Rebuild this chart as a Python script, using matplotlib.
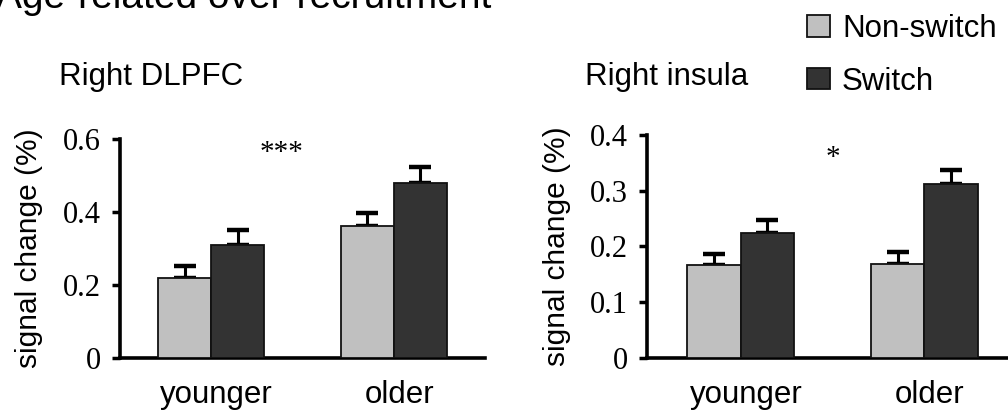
import matplotlib
matplotlib.use("Agg")
import matplotlib.pyplot as plt
import numpy as np

groups = ["younger", "older"]
series = ["Non-switch", "Switch"]
colors = ["#c0c0c0", "#333333"]

dlpfc_nonswitch = [0.219, 0.362]
dlpfc_switch = [0.310, 0.480]
dlpfc_nonswitch_err = [0.033, 0.035]
dlpfc_switch_err = [0.041, 0.043]
dlpfc_ticks = [0, 0.2, 0.4, 0.6]
dlpfc_tick_labels = ["0", "0.2", "0.4", "0.6"]

insula_nonswitch = [0.166, 0.169]
insula_switch = [0.225, 0.3125]
insula_nonswitch_err = [0.021, 0.021]
insula_switch_err = [0.023, 0.024]
insula_ticks = [0, 0.1, 0.2, 0.3, 0.4]
insula_tick_labels = ["0", "0.1", "0.2", "0.3", "0.4"]

SANS = "Liberation Sans"
SERIF = "Liberation Serif"

fig = plt.figure(figsize=(10.08, 4.12), dpi=100)
fig.patch.set_facecolor("white")

ax1 = fig.add_axes([0.119, 0.1311, 0.3621, 0.5316])
ax2 = fig.add_axes([0.6419, 0.1311, 0.368, 0.5412])

w = 0.29
x = np.arange(len(groups))


def panel(ax, ns, sw, ns_err, sw_err, ticks, tlabels, ylim, xlim):
    b1 = ax.bar(x - w / 2, ns, w, color=colors[0], edgecolor="#111111", linewidth=1.3, zorder=3, label=series[0])
    b2 = ax.bar(x + w / 2, sw, w, color=colors[1], edgecolor="#111111", linewidth=1.3, zorder=3, label=series[1])
    ax.errorbar(x - w / 2, ns, yerr=[np.zeros(len(ns)), ns_err], fmt="none", ecolor="black",
                elinewidth=2.2, capsize=8, capthick=3.2, zorder=2)
    ax.errorbar(x + w / 2, sw, yerr=[np.zeros(len(sw)), sw_err], fmt="none", ecolor="black",
                elinewidth=2.2, capsize=8, capthick=3.2, zorder=2)
    ax.set_xlim(*xlim)
    ax.set_ylim(*ylim)
    ax.set_yticks(ticks)
    ax.set_yticklabels(tlabels, fontfamily=SERIF, fontsize=22)
    ax.set_xticks(x + 0.03)
    ax.set_xticklabels(groups, fontfamily=SANS, fontsize=22.5)
    ax.tick_params(axis="x", length=0, pad=16)
    ax.tick_params(axis="y", direction="out", length=6, width=2.5, pad=8)
    for s in ["top", "right"]:
        ax.spines[s].set_visible(False)
    for s in ["left", "bottom"]:
        ax.spines[s].set_linewidth(2.6)
    ax.spines["bottom"].set_capstyle("projecting")
    ax.set_ylabel("signal change (%)", fontfamily=SANS, fontsize=21.5, labelpad=11)
    ax.yaxis.set_label_coords(ax.yaxis.label.get_position()[0], 0.47)
    ax.set_facecolor("none")
    return b1, b2


b1, b2 = panel(ax1, dlpfc_nonswitch, dlpfc_switch, dlpfc_nonswitch_err, dlpfc_switch_err,
               dlpfc_ticks, dlpfc_tick_labels, (0, 0.6), (-0.5, 1.5))
panel(ax2, insula_nonswitch, insula_switch, insula_nonswitch_err, insula_switch_err,
      insula_ticks, insula_tick_labels, (0, 0.4), (-0.51, 1.51))
for a in (ax1, ax2):
    a.yaxis.set_label_coords(-0.21 if a is ax1 else -0.205, 0.5)

ax1.text(0.388, 0.543, "***", fontfamily=SERIF, fontsize=21, ha="center", va="baseline")
ax2.text(0.50, 0.346, "*", fontfamily=SERIF, fontsize=21, ha="center", va="baseline")

fig.text(-0.004, 1 - 8 / 412, "Age-related over-recruitment", fontfamily=SANS, fontsize=28,
         ha="left", va="baseline")
fig.text(59 / 1008, 1 - 85 / 412, "Right DLPFC", fontfamily=SANS, fontsize=22.5, ha="left", va="baseline")
fig.text(585 / 1008, 1 - 85 / 412, "Right insula", fontfamily=SANS, fontsize=22.5, ha="left", va="baseline")

fig.legend([b1, b2], series, loc="upper left", bbox_to_anchor=(807 / 1008, 1 - 14 / 412),
           frameon=False, prop={"family": SANS, "size": 22.5}, handlelength=0.72, handleheight=0.69,
           handletextpad=0.4, labelspacing=0.72, borderpad=0, borderaxespad=0)

fig.savefig("out.png", dpi=100, facecolor="white")
